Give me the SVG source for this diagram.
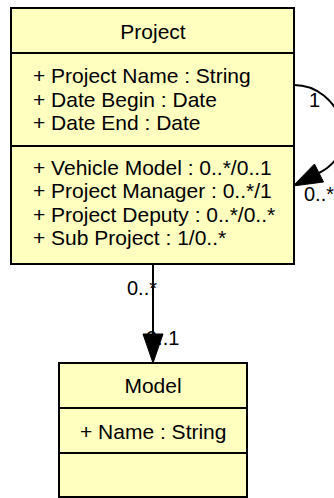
<svg xmlns="http://www.w3.org/2000/svg" width="334" height="498" viewBox="0 0 334 498">
<defs>
<style>
.box{fill:#ffffc0;stroke:#000;stroke-width:2}
.sep{stroke:#000;stroke-width:2}
text{font-family:"Liberation Sans",Arial,sans-serif;font-size:21px;fill:#000}
.c{text-anchor:middle}
.lbl{font-size:20px}
.edge{fill:none;stroke:#000;stroke-width:2}
.head{fill:#000;stroke:#000;stroke-width:1}
</style>
</defs>
<g id="Project">
<rect class="box" x="11" y="8" width="283" height="256"/>
<line class="sep" x1="11" y1="53" x2="294" y2="53"/>
<line class="sep" x1="11" y1="146" x2="294" y2="146"/>
<text class="c" x="153" y="39">Project</text>
<text x="33" y="83">+ Project Name : String</text>
<text x="33" y="107">+ Date Begin : Date</text>
<text x="33" y="130">+ Date End : Date</text>
<text x="33" y="175">+ Vehicle Model : 0..*/0..1</text>
<text x="33" y="198">+ Project Manager : 0..*/1</text>
<text x="33" y="222">+ Project Deputy : 0..*/0..*</text>
<text x="33" y="245">+ Sub Project : 1/0..*</text>
</g>
<g id="Model">
<rect class="box" x="59" y="363" width="188" height="134"/>
<line class="sep" x1="59" y1="408" x2="247" y2="408"/>
<line class="sep" x1="59" y1="453" x2="247" y2="453"/>
<text class="c" x="153" y="393">Model</text>
<text x="80" y="439">+ Name : String</text>
</g>
<g id="connectors">
<path class="edge" d="M294,85 C340,85 365,150 319,173"/>
<text class="lbl" x="309" y="107">1</text>
<text class="lbl" x="304" y="201">0..*</text>
<polygon class="head" points="293,186 323.5,182 314.5,164"/>
<line class="edge" x1="153" y1="264" x2="153" y2="334"/>
<text class="lbl" x="127" y="295">0..*</text>
<text class="lbl" x="146" y="345">0..1</text>
<polygon class="head" points="153,363 143,334 163,334"/>
</g>
</svg>
